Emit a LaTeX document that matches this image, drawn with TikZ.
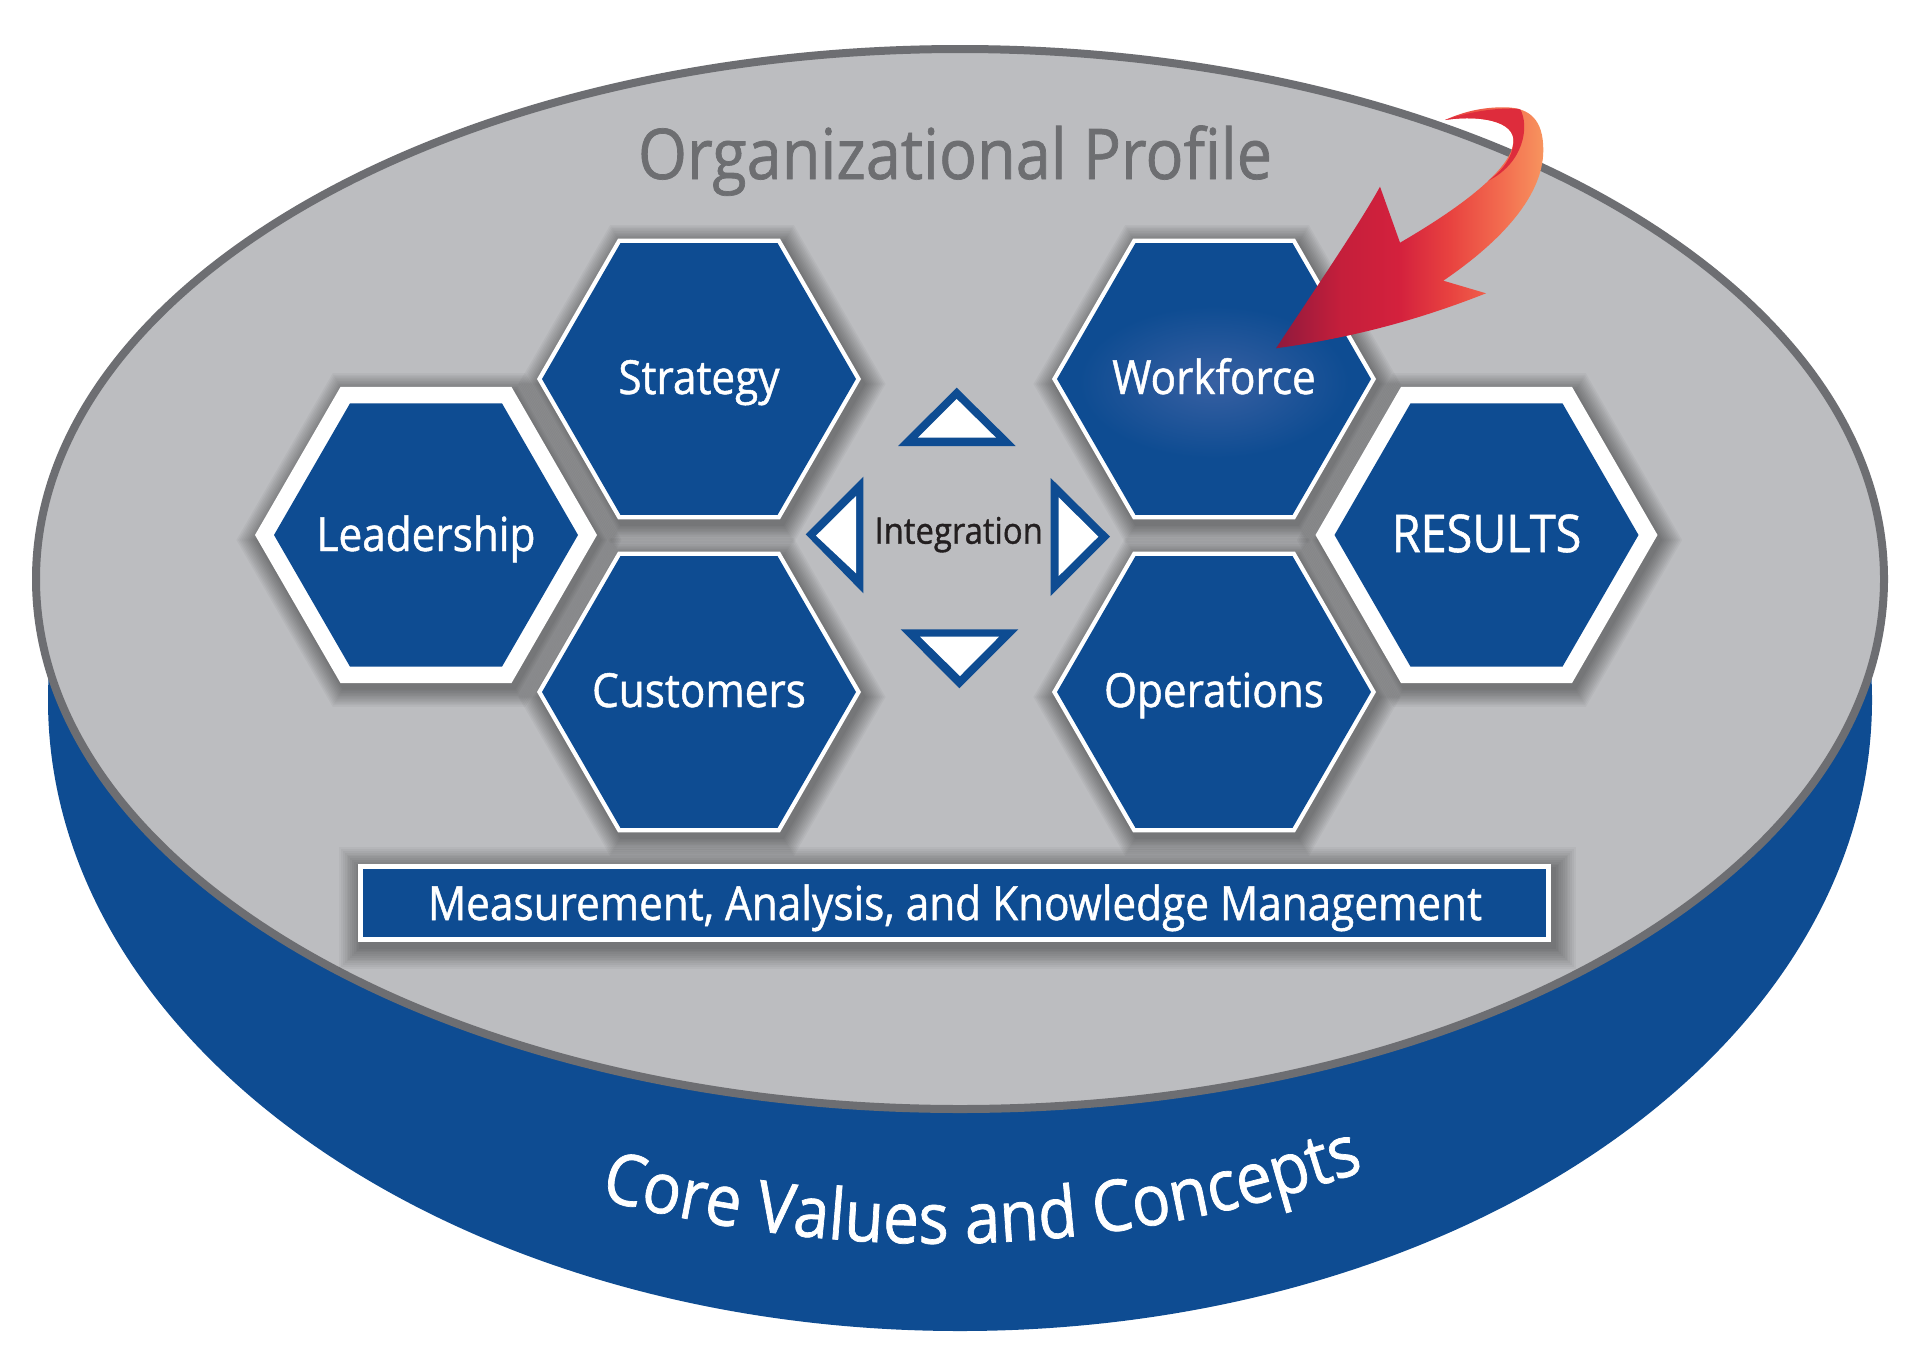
\documentclass[tikz,border=0pt]{standalone}
\usepackage{fontspec}
\newfontfamily\mainf[FakeStretch=0.9,FakeBold=1]{Open Sans}
\usetikzlibrary{decorations.text}
\definecolor{cblue}{RGB}{14,76,146}
\definecolor{cgray}{RGB}{188,189,192}
\definecolor{cborder}{RGB}{109,110,114}
\definecolor{ctext}{RGB}{109,110,113}
\definecolor{cdark}{RGB}{35,31,32}
\definecolor{aband}{RGB}{222,44,60}
\definecolor{glowc}{RGB}{56,96,162}
\pgfdeclarehorizontalshading{arrowshade}{100bp}{rgb(0bp)=(0.56,0.10,0.24); rgb(25bp)=(0.56,0.10,0.24); rgb(37bp)=(0.77,0.12,0.23); rgb(48bp)=(0.83,0.13,0.24); rgb(57.5bp)=(0.91,0.26,0.25); rgb(67bp)=(0.95,0.42,0.31); rgb(75bp)=(0.97,0.58,0.37); rgb(100bp)=(0.97,0.58,0.37)}
\newcommand{\hexshape}[3]{(#1,#2) +(0:#3) -- +(60:#3) -- +(120:#3) -- +(180:#3) -- +(240:#3) -- +(300:#3) -- cycle}
\newcommand{\hexshadow}[3]{\foreach \k in {1,...,12}{\fill[black,opacity=0.035] \hexshape{#1+3}{#2+5}{#3+\k*1.8};}}
\newcommand{\hexsmall}[2]{\fill[white] \hexshape{#1}{#2}{162}; \fill[cblue] \hexshape{#1}{#2}{157};}
\newcommand{\hexbig}[2]{\fill[white] \hexshape{#1}{#2}{171}; \fill[cblue] \hexshape{#1}{#2}{152};}
\newcommand{\corefont}{\mainf\fontsize{71}{85}\selectfont}
\tikzset{
  lbl/.style={font=\mainf\fontsize{47}{56}\selectfont, text=white, anchor=base, inner sep=0pt},
}
\begin{document}
\begin{tikzpicture}[x=1pt,y=-1pt]
\useasboundingbox (0,0) rectangle (1918,1368);
\fill[white] (0,0) rectangle (1918,1368);
% cylinder
\fill[cblue] (960,700) ellipse (912 and 631);
\filldraw[fill=cgray, draw=cborder, line width=8pt] (960,579) ellipse (924 and 530);
\node[font=\mainf\fontsize{70}{82}\selectfont, text=ctext, anchor=base, inner sep=0pt] (orgprofile) at (955,179) {Organizational Profile};
% shadows
\hexshadow{699}{379}{162}
\hexshadow{699}{692}{162}
\hexshadow{1214}{379}{162}
\hexshadow{1214}{692}{162}
\hexshadow{426}{535}{171}
\hexshadow{1486.5}{535}{171}
\foreach \k in {1,...,12}{\fill[black,opacity=0.035] (358-\k*1.8+3,864-\k*1.8+5) rectangle (1551+\k*1.8+3,942+\k*1.8+5);}
% hexagons
\hexsmall{699}{379}
\hexsmall{699}{692}
\hexsmall{1214}{379}
\hexsmall{1214}{692}
\hexbig{426}{535}
\hexbig{1486.5}{535}
\shade[inner color=glowc, outer color=cblue] (1214,382) ellipse (135 and 76);
\node[lbl] (strategy) at (699,394) {Strategy};
\node[lbl] (customers) at (699,707) {Customers};
\node[lbl] (workforce) at (1214,394) {Workforce};
\node[lbl] (operations) at (1214,707) {Operations};
\node[lbl] (leadership) at (426,551) {Leadership};
\node[lbl, font=\mainf\fontsize{52}{62}\selectfont] (results) at (1486.5,552) {RESULTS};
% integration triangles
\fill[cblue] (956.7,387.7) -- (898,446) -- (1015.7,446) -- cycle;
\fill[white] (956.7,399) -- (918,437.7) -- (996,437.7) -- cycle;
\fill[cblue] (900.7,629.3) -- (1018.3,629.3) -- (959.3,688.3) -- cycle;
\fill[white] (920,636.7) -- (999,636.7) -- (960,676) -- cycle;
\fill[cblue] (805.7,534.3) -- (863.3,476.7) -- (863.3,593.3) -- cycle;
\fill[white] (816,535.7) -- (856,496) -- (856,573.3) -- cycle;
\fill[cblue] (1110,536.7) -- (1050.7,478) -- (1050.7,596) -- cycle;
\fill[white] (1098.3,536.7) -- (1058.7,497.3) -- (1058.7,576) -- cycle;
\node[font=\mainf\fontsize{36.5}{43}\selectfont, text=cdark, anchor=base, inner sep=0pt] (integration) at (958.7,543.7) {Integration};
% measurement bar
\fill[white] (358,864) rectangle (1551,942);
\fill[cblue] (363,869) rectangle (1546,937);
\node[font=\mainf\fontsize{47}{56}\selectfont, text=white, anchor=base, inner sep=0pt] (mak) at (955,920) {Measurement, Analysis, and Knowledge Management};
% red arrow
\def\arrowpath{(1276,348.3) .. controls (1360,336.7) and (1426.7,316.7) .. (1486,293.3)
  -- (1443.3,280.7)
  .. controls (1493.3,246.7) and (1543.3,200) .. (1543.3,150)
  .. controls (1543.3,120) and (1530,108.3) .. (1506.7,107.3)
  .. controls (1480,106.7) and (1460,113.3) .. (1445,120)
  .. controls (1476.7,115) and (1516.7,120) .. (1513.3,143.3)
  .. controls (1510,166.7) and (1473.3,200) .. (1400,242.7)
  -- (1380,186.7)
  .. controls (1360,223.3) and (1310,296.7) .. (1276,348.3) -- cycle}
\shade[shading=arrowshade] \arrowpath;
\begin{scope}
\clip \arrowpath;
\fill[aband] (1445,120) .. controls (1466.7,112.7) and (1493.3,107.3) .. (1520,108.7)
  .. controls (1530,126.7) and (1523.3,163.3) .. (1488.3,180.7)
  .. controls (1503.3,170) and (1512.3,156.7) .. (1513.3,143.3)
  .. controls (1516.7,120) and (1476.7,115) .. (1445,120) -- cycle;
\end{scope}
% core values text
\coordinate (corestart) at (521,1175.8);
\coordinate (coreend) at (1441,1142);
\path[decorate, decoration={text along path, text={|\corefont|Core Values and Concepts}, text align=center, text color=white}]
  (corestart) .. controls (827.7,1274.6) and (1134.3,1267) .. (coreend);
\end{tikzpicture}
\end{document}
